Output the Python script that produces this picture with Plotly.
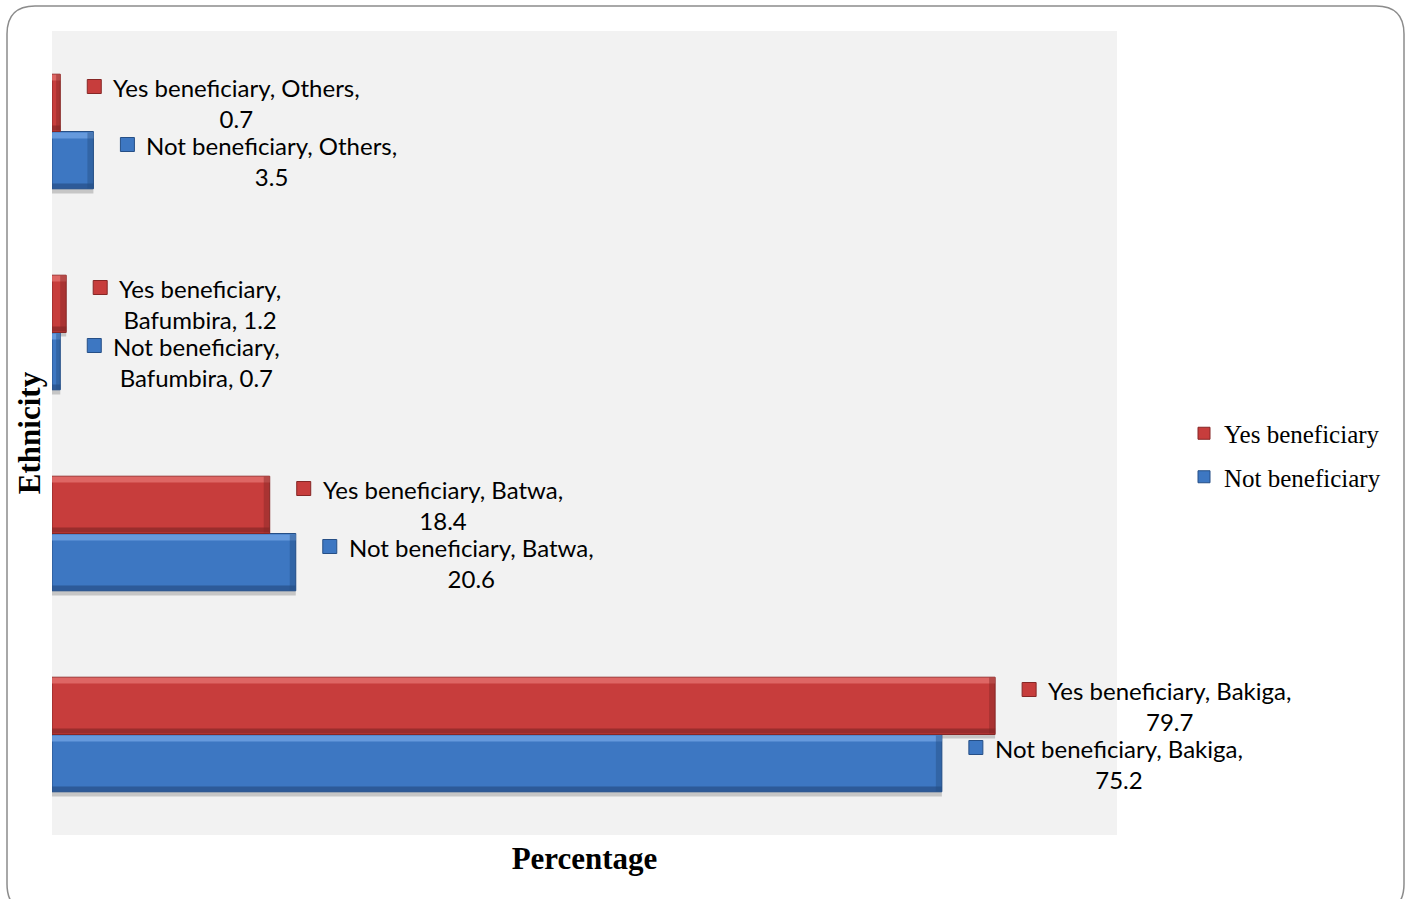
import plotly.graph_objects as go

# Survey results: share of respondents by ethnicity and beneficiary status
ethnicity = ["Bakiga", "Batwa", "Bafumbira", "Others"]
yes_beneficiary = [79.7, 18.4, 1.2, 0.7]
not_beneficiary = [75.2, 20.6, 0.7, 3.5]

# where each data label wraps onto its second line
wrap_after_name = {"Bafumbira"}

series = [
    # name, values, fill, highlight, shade, pixel offset of bar centre, legend rank
    ("Not beneficiary", not_beneficiary, "#3d77c2", "#74a6e6", "#264f86", -29, 2),
    ("Yes beneficiary", yes_beneficiary, "#c73d3c", "#e57472", "#862726", 29, 1),
]

LABEL_FONT = dict(family="Lato, Open Sans, sans-serif", size=24, color="#000000")
SERIF = "Liberation Serif, Times New Roman, serif"
HALF = 28  # half bar thickness in pixels

fig = go.Figure()
shapes = []
annotations = []

for name, vals, fill, hi, sh, off, rank in series:
    fig.add_trace(go.Bar(
        y=ethnicity, x=vals, orientation="h", name=name,
        legendgroup=name, legendrank=rank,
        marker=dict(color=fill, line=dict(color=sh, width=1)),
        hoverinfo="x+y+name",
    ))
    for i, (cat, v) in enumerate(zip(ethnicity, vals)):
        # soft drop shadow under the bar
        shapes.append(dict(type="rect", layer="below", xref="x", yref="y",
                           ysizemode="pixel", yanchor=i,
                           x0=0, x1=v, y0=off - HALF - 5, y1=off - HALF,
                           fillcolor="rgba(0,0,0,0.18)", line_width=0))
        # bevel: light top strip, dark bottom strip, dark right end
        shapes.append(dict(type="rect", layer="above", xref="x", yref="y",
                           ysizemode="pixel", yanchor=i,
                           x0=0, x1=v, y0=off + HALF - 6, y1=off + HALF,
                           fillcolor=hi, opacity=0.75, line_width=0))
        shapes.append(dict(type="rect", layer="above", xref="x", yref="y",
                           ysizemode="pixel", yanchor=i,
                           x0=0, x1=v, y0=off - HALF, y1=off - HALF + 5,
                           fillcolor=sh, opacity=0.7, line_width=0))
        shapes.append(dict(type="rect", layer="above", xref="x", yref="y",
                           xsizemode="pixel", xanchor=v,
                           ysizemode="pixel", yanchor=i,
                           x0=-min(6, v * 11.8 / 2), x1=0,
                           y0=off - HALF, y1=off + HALF,
                           fillcolor=sh, opacity=0.45, line_width=0))
        # legend key square beside the data label
        shapes.append(dict(type="rect", layer="above", xref="x", yref="y",
                           xsizemode="pixel", xanchor=v,
                           ysizemode="pixel", yanchor=i,
                           x0=27, x1=41, y0=off + 9, y1=off + 23,
                           fillcolor=fill, line=dict(color=sh, width=1)))
        if cat in wrap_after_name:
            text = f"{name},<br>{cat}, {v}"
        else:
            text = f"{name}, {cat},<br>{v}"
        annotations.append(dict(
            x=v, y=cat, xref="x", yref="y", text=text,
            showarrow=False, xanchor="left", yanchor="middle", align="center",
            xshift=51, yshift=off, font=LABEL_FONT,
        ))

# rounded frame around the whole chart (paper coords relative to plot area)
L, R, T, B = 52, 1117, 31, 835


def px(x):
    return (x - L) / (R - L)


def py(y):
    return (B - y) / (B - T)


x0, x1, y0, y1, r = 7, 1404, 6, 912, 28
path = (
    f"M {px(x0 + r)},{py(y0)} L {px(x1 - r)},{py(y0)} "
    f"Q {px(x1)},{py(y0)} {px(x1)},{py(y0 + r)} "
    f"L {px(x1)},{py(y1 - r)} Q {px(x1)},{py(y1)} {px(x1 - r)},{py(y1)} "
    f"L {px(x0 + r)},{py(y1)} Q {px(x0)},{py(y1)} {px(x0)},{py(y1 - r)} "
    f"L {px(x0)},{py(y0 + r)} Q {px(x0)},{py(y0)} {px(x0 + r)},{py(y0)} Z"
)
shapes.append(dict(type="path", xref="paper", yref="paper", path=path,
                   line=dict(color="#8c8c8c", width=1.5), layer="below"))

fig.update_layout(
    width=1410, height=899,
    margin=dict(l=L, r=1410 - R, t=T, b=899 - B, autoexpand=False),
    paper_bgcolor="#ffffff", plot_bgcolor="#f2f2f2",
    barmode="group", bargap=0.43, bargroupgap=0,
    showlegend=True,
    legend=dict(
        x=px(1184), y=py(455), xanchor="left", yanchor="middle",
        traceorder="grouped", tracegroupgap=8,
        font=dict(family=SERIF, size=25, color="#000000"),
        bgcolor="rgba(0,0,0,0)", itemclick=False,
    ),
    xaxis=dict(range=[0, 90], showgrid=False, zeroline=False,
               showticklabels=False, ticks="", showline=False,
               title=dict(text="<b>Percentage</b>", standoff=12,
                          font=dict(family=SERIF, size=31, color="#000000"))),
    yaxis=dict(type="category", categoryorder="array", categoryarray=ethnicity,
               showgrid=False, zeroline=False, showticklabels=False,
               ticks="", showline=False, range=[-0.5, 3.5],
               title=dict(text="<b>Ethnicity</b>", standoff=1,
                          font=dict(family=SERIF, size=31, color="#000000"))),
    shapes=shapes,
    annotations=annotations,
)

fig.write_html("out.html")
